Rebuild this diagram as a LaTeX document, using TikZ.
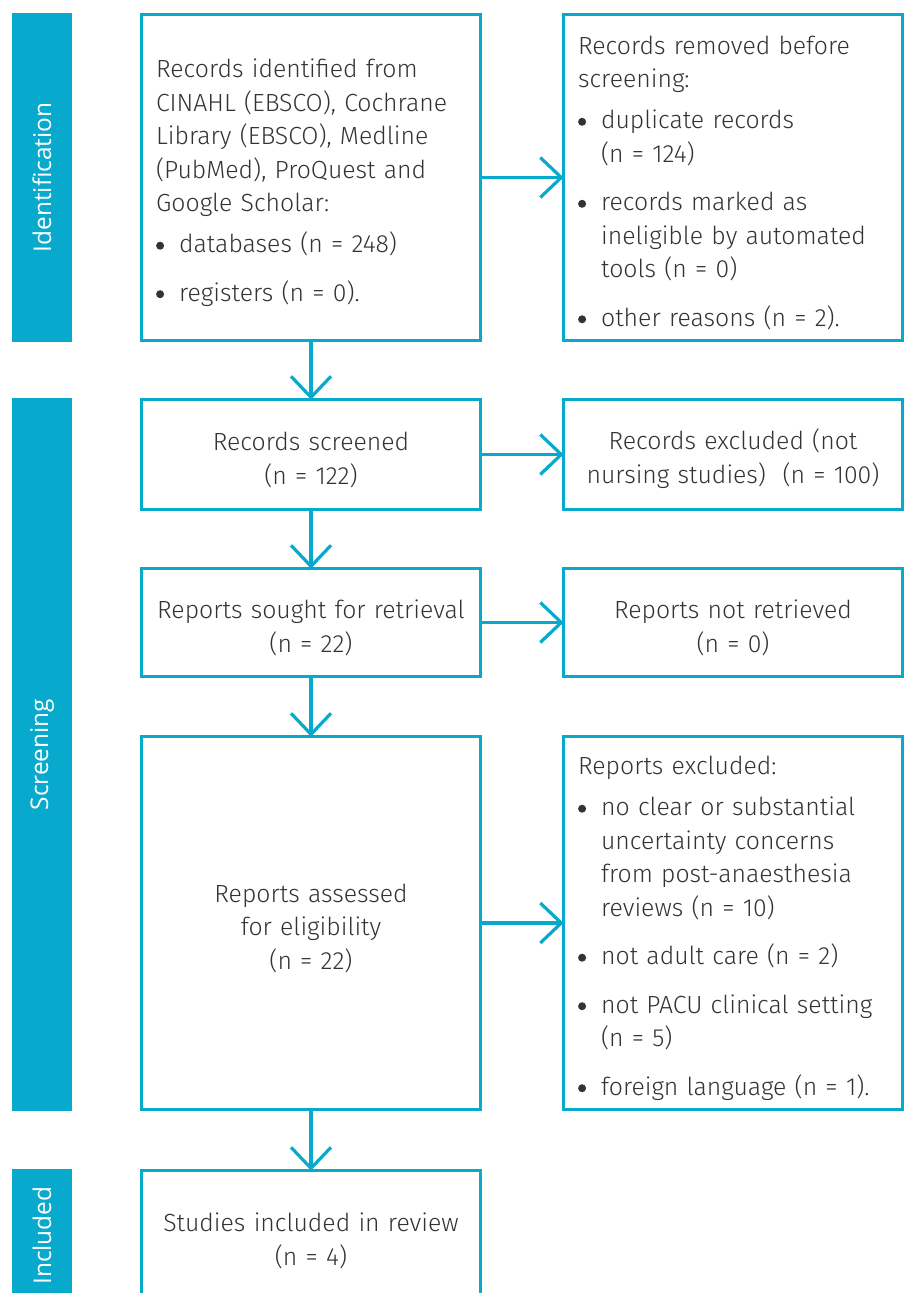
\documentclass[tikz,border=0pt]{standalone}
\usepackage{fontspec}
\setmainfont{Fira Sans}[UprightFont={* Light}]
\newfontfamily\phasefont{Open Sans}
\usepackage{enumitem}
\usetikzlibrary{%
    arrows.meta,
    calc,
    positioning
}

\definecolor{prisma}{HTML}{07AACD}
\definecolor{ink}{HTML}{333333}

\newlist{prismalist}{itemize}{1}
\setlist[prismalist]{label={\tikz[baseline=-7pt]\fill[ink] (0,0) circle[radius=4pt];},
    leftmargin=23pt, labelindent=0pt,
    labelwidth=14pt, labelsep=9pt, align=left,
    topsep=7.5pt, partopsep=0pt, itemsep=15pt, parsep=0pt}

\tikzset{
    box/.style={draw=prisma, line width=3.2pt, outer sep=0pt,
                minimum width=338.8pt, text width=309.8pt,
                inner xsep=14.5pt, inner ysep=4pt, text=ink, align=left,
                font=\fontsize{24.8}{33.5}\selectfont,
                execute at begin node={\rule{0pt}{29pt}}},
    midbox/.style={box, inner xsep=5pt, text width=328.8pt, align=center},
    phase/.style={fill=prisma, rotate=90, minimum height=60pt,
                  text=white, font=\phasefont\fontsize{24.4}{28}\selectfont},
    flow/.style={draw=prisma, line width=3.2pt,
                 -{Straight Barb[length=21pt, width=40pt]}}
}

\begin{document}
\begin{tikzpicture}[x=1pt, y=-1pt]
    \useasboundingbox (0,0) rectangle (909,1293);

    \node[box, minimum height=325.8pt] (ident) at (311,177.5) {%
        Records identified from\\ CINAHL (EBSCO), Cochrane\\
        Library (EBSCO), Medline\\ (PubMed), ProQuest and\\ Google Scholar:
        \begin{prismalist}
            \item databases (n = 248)
            \item registers (n = 0).
        \end{prismalist}};
    \node[box, minimum height=325.8pt,
          right=83.2pt of ident] (removed) {%
        Records removed before\\ screening:
        \begin{prismalist}
            \item duplicate records\\ (n = 124)
            \item records marked as\\ ineligible by automated\\ tools (n = 0)
            \item other reasons (n = 2).
        \end{prismalist}};

    \node[midbox, minimum height=109.8pt,
          below=59.2pt of ident] (screened)
          {Records screened\\ (n = 122)};
    \node[midbox, minimum height=109.8pt,
          right=83.2pt of screened] (excluded)
          {Records excluded (not\\ nursing studies)~ (n = 100)};

    \node[midbox, minimum height=107.8pt,
          below=59.2pt of screened] (sought)
          {Reports sought for retrieval\\ (n = 22)};
    \node[midbox, minimum height=107.8pt,
          right=83.2pt of sought] (notretrieved)
          {Reports not retrieved\\ (n = 0)};

    \node[midbox, minimum height=372.8pt,
          below=60.2pt of sought] (assessed)
          {Reports assessed\\ for eligibility\\ (n = 22)};
    \node[box, minimum height=372.8pt,
          right=83.2pt of assessed] (reportsout) {%
        Reports excluded:
        \begin{prismalist}
            \item no clear or substantial\\ uncertainty concerns\\
                  from post-anaesthesia\\ reviews (n = 10)
            \item not adult care (n = 2)
            \item not PACU clinical setting\\ (n = 5)
            \item foreign language (n = 1).
        \end{prismalist}};

    \node[midbox, minimum height=130pt,
          below=61.2pt of assessed] (studies)
          {Studies included in review\\ (n = 4)};

    % phase bars
    \coordinate (barx) at (42,0);
    \coordinate (scrmid) at ($(screened.north)!.5!(assessed.south)$);
    \node[phase, minimum width=329pt] (idphase) at (ident -| barx) {Identification};
    \node[phase, minimum width=713pt] (scrphase) at (scrmid -| barx) {Screening};
    \node[phase, minimum width=133.2pt] (incphase) at (studies -| barx) {Included};

    \foreach \From/\To in {ident/screened, screened/sought,
                           sought/assessed, assessed/studies}
        \draw[flow] (\From) -- (\To);
    \foreach \From/\To in {ident/removed, screened/excluded,
                           sought/notretrieved, assessed/reportsout}
        \draw[flow] (\From) -- (\To);
\end{tikzpicture}
\end{document}
